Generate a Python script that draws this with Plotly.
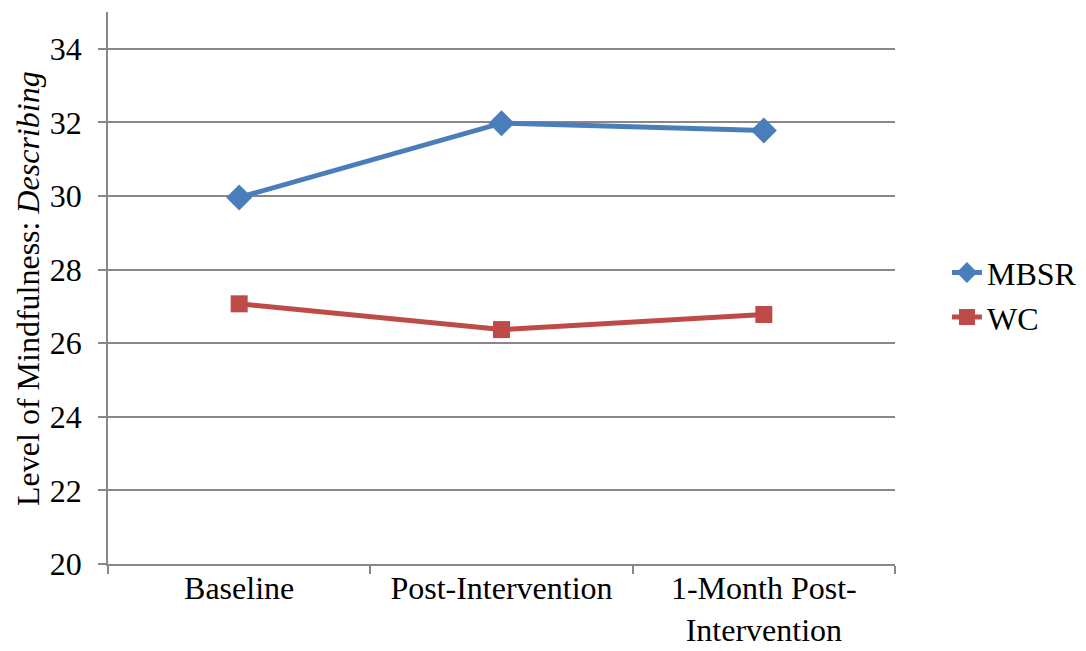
import plotly.graph_objects as go

categories = ["Baseline", "Post-Intervention", "1-Month Post-<br>Intervention"]
mbsr = [29.96, 31.98, 31.78]
wc = [27.07, 26.37, 26.78]
y_ticks = [20, 22, 24, 26, 28, 30, 32, 34]
y_title = "Level of Mindfulness: <i>Describing</i>"

font = "Liberation Serif, Times New Roman, serif"
grid = "#878787"

fig = go.Figure()
fig.add_trace(go.Scatter(
    x=categories, y=mbsr, name="MBSR", mode="lines+markers",
    line=dict(color="#4A7EBB", width=5),
    marker=dict(symbol="diamond", size=20, color="#4A7EBB"),
))
fig.add_trace(go.Scatter(
    x=categories, y=wc, name="WC", mode="lines+markers",
    line=dict(color="#BE4B48", width=5),
    marker=dict(symbol="square", size=17, color="#BE4B48"),
))

# page body has an 8px default margin; margins compensate so the plot area
# lands at x 108..895, y 12..564 in the window
fig.update_layout(
    width=1086, height=651,
    margin=dict(l=100, r=199, t=4, b=95),
    paper_bgcolor="white", plot_bgcolor="white",
    font=dict(family=font, size=32, color="black"),
    showlegend=True,
    legend=dict(x=1.066, y=0.487, xanchor="left", yanchor="middle",
                font=dict(size=32), tracegroupgap=0),
    xaxis=dict(
        type="category", range=[-0.5, 2.5],
        showline=True, linecolor=grid, linewidth=1.5,
        ticks="outside", tickson="boundaries", ticklen=8, tickcolor=grid, tickwidth=1.5,
        showgrid=False, tickfont=dict(size=32), ticklabelstandoff=-5,
    ),
    yaxis=dict(
        range=[20, 35], tickvals=y_ticks,
        showline=True, linecolor=grid, linewidth=1.5,
        ticks="outside", ticklen=8, tickcolor=grid, tickwidth=1.5,
        showgrid=True, gridcolor=grid, gridwidth=1.5,
        zeroline=False, tickfont=dict(size=32), ticklabelstandoff=10,
    ),
    annotations=[dict(
        text=y_title, xref="paper", yref="paper", x=-0.1017, y=0.5,
        xanchor="center", yanchor="middle", textangle=-90, showarrow=False,
        font=dict(size=32, family=font, color="black"),
    )],
)

fig.write_html("out.html", config={"displayModeBar": False})
